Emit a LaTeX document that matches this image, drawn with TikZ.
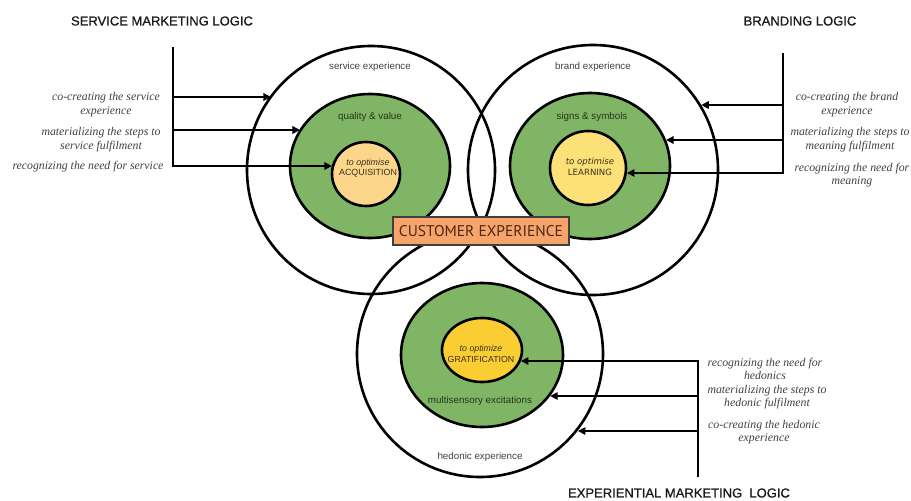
\documentclass[tikz,border=0pt]{standalone}
\usepackage{fontspec}
\setmainfont{Liberation Serif}
\setsansfont{Liberation Sans}
\newfontfamily\headfont{Liberation Sans}[FakeBold=0.8]
\newfontfamily\boxfont{PT Sans}
\newfontfamily\dejafont{DejaVu Sans}
\usetikzlibrary{arrows.meta,shapes.geometric}

\definecolor{ringgreen}{HTML}{7FB565}
\definecolor{coreA}{HTML}{FCD68A}
\definecolor{coreB}{HTML}{FCE078}
\definecolor{coreC}{HTML}{FACD32}
\definecolor{ceorange}{HTML}{F6A46C}
\definecolor{labelgray}{HTML}{404040}
\definecolor{ringtext}{HTML}{26361C}
\definecolor{cetext}{HTML}{4A2810}
\definecolor{coretext}{HTML}{3A3020}

\begin{document}
\begin{tikzpicture}[x=1pt,y=-1pt,
  bigring/.style={circle,draw,line width=2.6pt,inner sep=0pt,minimum size=#1},
  greenring/.style={ellipse,draw,line width=2.6pt,fill=ringgreen,inner sep=0pt},
  corering/.style={ellipse,draw,line width=2.6pt,inner sep=0pt},
  feed/.style={line width=1.6pt,-{Triangle[length=7.5pt,width=7.5pt]}},
  logic/.style={font=\headfont\fontsize{13}{15}\selectfont,text=black!90},
  cue/.style={font=\itshape\fontsize{11.8}{13.8}\selectfont,text=labelgray,align=center},
  ringlabel/.style={font=\sffamily\fontsize{9.8}{11}\selectfont,text=labelgray},
  greenlabel/.style={font=\sffamily\fontsize{9.8}{11}\selectfont,text=ringtext},
  corelabel/.style={font=\sffamily\fontsize{8.9}{10.6}\selectfont,align=center,text=coretext}
]
\useasboundingbox (0,0) rectangle (911,501);

% ---- three experience circles ----
\node[bigring=248pt] (svcOuter) at (371,170) {};
\node[bigring=250pt] (brandOuter) at (593,170) {};
\node[bigring=246pt] (hedOuter) at (480,354) {};

\node[greenring,minimum width=160pt,minimum height=144pt] (svcRing) at (370,166) {};
\node[greenring,minimum width=160pt,minimum height=146pt] (brandRing) at (590,166) {};
\node[greenring,minimum width=162pt,minimum height=144pt] (hedRing) at (482,355) {};

\node[corering,fill=coreA,minimum width=68pt,minimum height=64pt] (svcCore) at (366,174) {};
\node[corering,fill=coreB,minimum width=76pt,minimum height=74pt] (brandCore) at (588,168) {};
\node[corering,fill=coreC,minimum width=80pt,minimum height=64pt] (hedCore) at (482,350) {};

% ---- labels inside the circles ----
\node[ringlabel] (svcExp) at (370,67) {service experience};
\node[greenlabel] (svcQual) at (370,117) {quality \& value};
\node[corelabel] (svcAim) at (368,168) {\textit{to optimise}\\ACQUISITION};

\node[ringlabel] (brandExp) at (593,67) {brand experience};
\node[greenlabel] (brandSign) at (592,117) {signs \& symbols};
\node[corelabel,font=\dejafont\fontsize{8.6}{10.8}\selectfont] (brandAim) at (590,167) {\textit{to optimise}\\LEARNING};

\node[corelabel,font=\sffamily\fontsize{8.8}{10.8}\selectfont] (hedAim) at (481,354) {\textit{to optimize}\\GRATIFICATION};
\node[greenlabel] (hedSense) at (480,401) {multisensory excitations};
\node[ringlabel] (hedExp) at (480,457) {hedonic experience};

% ---- service marketing logic (left) ----
\node[logic] (svcLogic) at (162,21) {SERVICE MARKETING LOGIC};
\coordinate (sTop) at (173,47);
\coordinate (s1) at (173,97);
\coordinate (s2) at (173,130);
\coordinate (s3) at (173,166);
\draw[feed] (sTop) -- (s3) -- (s3 -| svcCore.166.3);
\draw[feed] (s1) -- (s1 -| svcOuter.143.9);
\draw[feed] (s2) -- (s2 -| svcRing.152.5);
\node[cue] (sCue1) at (106,105) {co-creating the service\\experience};
\node[cue] (sCue2) at (101,140) {materializing the steps to\\service fulfilment};
\node[cue] (sCue3) at (88,167) {recognizing the need for service};

% ---- branding logic (right) ----
\node[logic] (brandLogic) at (800,21) {BRANDING LOGIC};
\coordinate (bTop) at (783,53);
\coordinate (b1) at (783,105);
\coordinate (b2) at (783,140);
\coordinate (b3) at (783,173);
\draw[feed] (bTop) -- (b3) -- (b3 -| brandCore.-7.6);
\draw[feed] (b1) -- (b1 -| brandOuter.31.3);
\draw[feed] (b2) -- (b2 -| brandRing.19.2);
\node[cue] (bCue1) at (847,105) {co-creating the brand\\experience};
\node[cue] (bCue2) at (850,140) {materializing the steps to\\meaning fulfilment};
\node[cue] (bCue3) at (852,175) {recognizing the need for\\meaning};

% ---- experiential marketing logic (bottom) ----
\node[logic] (hedLogic) at (679,493) {EXPERIENTIAL MARKETING\ \ LOGIC};
\coordinate (hBot) at (698,477);
\coordinate (h1) at (698,361);
\coordinate (h2) at (698,396);
\coordinate (h3) at (698,431);
\draw[feed] (hBot) -- (h1) -- (h1 -| hedCore.-16.3);
\draw[feed] (h2) -- (h2 -| hedRing.-31.9);
\draw[feed] (h3) -- (h3 -| hedOuter.-38.8);
\node[cue,font=\itshape\fontsize{11.8}{13.5}\selectfont] (hCue1) at (765,369) {recognizing the need for\\hedonics};
\node[cue,font=\itshape\fontsize{11.8}{13.5}\selectfont] (hCue2) at (767,397) {materializing the steps to\\hedonic fulfilment};
\node[cue,font=\itshape\fontsize{11.8}{13.5}\selectfont] (hCue3) at (764,432) {co-creating the hedonic\\experience};

% ---- centre label ----
\node[draw=black!75,line width=1.2pt,fill=ceorange,minimum width=176pt,minimum height=28pt,inner sep=0pt,
      text=cetext,font=\boxfont\fontsize{15.5}{17}\selectfont] (cx) at (481,231) {CUSTOMER EXPERIENCE};
\end{tikzpicture}
\end{document}
